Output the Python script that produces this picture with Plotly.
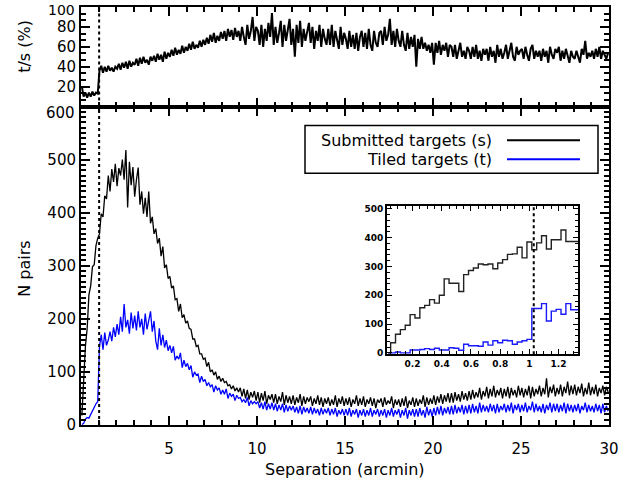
import plotly.graph_objects as go

# ---------------- data ----------------
BIN = 0.1
sep_centers = [round(0.05 + BIN * k, 3) for k in range(300)]

submitted = [
    18, 98, 148, 182, 245, 262, 298, 302, 338, 352,
    360, 398, 392, 432, 426, 470, 440, 482, 458, 492,
    450, 484, 470, 500, 462, 518, 410, 496, 452, 486,
    430, 462, 485, 415, 440, 398, 428, 392, 440, 380,
    392, 360, 370, 342, 352, 318, 336, 296, 302, 276,
    280, 258, 262, 236, 238, 214, 228, 202, 208, 192,
    196, 182, 180, 162, 162, 148, 150, 134, 134, 124,
    126, 110, 118, 100, 104, 94, 100, 86, 92, 82,
    88, 80, 82, 74, 76, 68, 74, 64, 70, 62,
    70, 54, 68, 50, 66, 48, 62, 52, 64, 46,
    62, 42, 60, 46, 64, 40, 56, 48, 58, 42,
    58, 40, 54, 44, 62, 38, 56, 42, 54, 40,
    56, 38, 52, 42, 58, 36, 54, 40, 52, 44,
    54, 36, 50, 40, 56, 38, 52, 34, 50, 40,
    52, 36, 48, 38, 56, 34, 50, 40, 54, 36,
    50, 38, 52, 34, 48, 40, 56, 36, 50, 38,
    54, 34, 48, 40, 52, 36, 50, 32, 48, 42,
    50, 34, 52, 38, 46, 40, 54, 32, 48, 38,
    48, 34, 50, 36, 54, 32, 46, 38, 52, 34,
    50, 36, 48, 40, 56, 34, 52, 38, 50, 40,
    56, 38, 54, 42, 58, 40, 56, 44, 60, 42,
    60, 42, 62, 46, 58, 44, 64, 48, 60, 46,
    64, 48, 66, 50, 62, 52, 70, 48, 64, 54,
    72, 50, 68, 54, 74, 52, 66, 56, 70, 50,
    68, 54, 72, 50, 70, 56, 66, 52, 74, 56,
    70, 52, 68, 56, 74, 50, 72, 54, 68, 58,
    74, 54, 70, 58, 88, 52, 72, 60, 76, 54,
    70, 58, 76, 54, 72, 60, 82, 56, 74, 58,
    76, 56, 72, 60, 78, 54, 70, 58, 80, 56,
    72, 58, 76, 54, 70, 60, 74, 56, 72, 62,
]

tiled = [
    1, 3, 11, 14, 13, 20, 25, 33, 40, 44,
    148, 170, 142, 174, 150, 160, 176, 158, 184, 166,
    190, 170, 204, 176, 228, 184, 198, 172, 212, 182,
    206, 178, 214, 184, 200, 170, 210, 180, 198, 214,
    176, 196, 158, 142, 182, 150, 170, 146, 160, 140,
    150, 136, 148, 122, 130, 124, 136, 108, 122, 110,
    116, 104, 112, 90, 100, 94, 96, 80, 92, 82,
    86, 74, 80, 72, 76, 62, 74, 66, 70, 58,
    66, 58, 68, 50, 60, 54, 58, 46, 56, 50,
    52, 44, 48, 42, 52, 36, 46, 40, 44, 40,
    44, 32, 42, 30, 44, 28, 40, 30, 42, 28,
    40, 26, 38, 28, 40, 24, 38, 26, 36, 28,
    36, 24, 34, 22, 36, 20, 34, 24, 32, 22,
    34, 20, 32, 22, 30, 18, 32, 20, 30, 22,
    32, 18, 30, 20, 32, 16, 28, 20, 30, 18,
    30, 18, 32, 16, 28, 20, 30, 14, 28, 18,
    30, 16, 28, 18, 32, 16, 28, 20, 30, 16,
    28, 18, 30, 14, 28, 18, 32, 16, 28, 20,
    30, 14, 28, 18, 32, 12, 28, 18, 30, 16,
    30, 16, 32, 18, 28, 14, 34, 18, 30, 16,
    32, 18, 34, 20, 36, 18, 32, 22, 34, 20,
    36, 20, 38, 22, 34, 24, 38, 20, 36, 22,
    38, 22, 40, 24, 36, 22, 42, 24, 38, 26,
    36, 24, 40, 26, 38, 22, 40, 24, 36, 28,
    40, 24, 38, 26, 42, 22, 38, 28, 40, 24,
    38, 26, 42, 24, 36, 28, 44, 24, 40, 26,
    36, 24, 40, 22, 38, 28, 42, 24, 40, 26,
    40, 24, 38, 26, 42, 22, 40, 26, 38, 24,
    38, 26, 40, 22, 36, 28, 42, 24, 38, 26,
    36, 24, 40, 26, 38, 22, 40, 24, 36, 26,
]

ratio_pct = [
    20, 10, 14, 9, 14, 10, 15, 11, 14, 13,
    36, 41, 34, 40, 35, 41, 36, 39, 35, 40,
    38, 43, 37, 44, 39, 45, 38, 46, 40, 44,
    42, 48, 41, 49, 43, 50, 44, 47, 42, 50,
    46, 51, 45, 53, 47, 52, 45, 55, 48, 54,
    50, 57, 51, 59, 52, 57, 53, 61, 54, 60,
    56, 63, 57, 65, 58, 62, 59, 66, 60, 67,
    62, 69, 63, 72, 65, 74, 64, 71, 66, 75,
    68, 76, 66, 78, 70, 77, 67, 79, 70, 76,
    66, 80, 70, 62, 82, 68, 76, 90, 66, 80,
    76, 62, 82, 60, 78, 66, 84, 70, 94, 62,
    80, 64, 74, 86, 60, 82, 66, 76, 88, 62,
    78, 50, 82, 64, 86, 60, 78, 66, 74, 84,
    64, 80, 58, 76, 66, 82, 60, 78, 68, 62,
    78, 62, 82, 60, 76, 66, 58, 80, 62, 74,
    68, 58, 76, 60, 72, 58, 74, 56, 70, 76,
    60, 74, 58, 78, 62, 56, 76, 64, 60, 74,
    76, 62, 80, 66, 72, 88, 62, 76, 60, 78,
    66, 60, 76, 62, 56, 74, 58, 70, 60, 72,
    40, 68, 58, 70, 58, 64, 56, 62, 54, 64,
    42, 64, 54, 66, 52, 62, 56, 64, 50, 62,
    60, 50, 62, 48, 58, 64, 50, 56, 48, 60,
    56, 48, 60, 50, 62, 48, 56, 46, 58, 52,
    58, 46, 60, 50, 56, 44, 62, 50, 58, 48,
    54, 62, 48, 58, 64, 50, 46, 60, 52, 56,
    58, 48, 60, 52, 46, 58, 62, 48, 56, 50,
    56, 46, 58, 50, 56, 44, 60, 52, 48, 58,
    54, 60, 46, 56, 48, 58, 52, 44, 56, 50,
    48, 56, 50, 44, 58, 52, 66, 48, 54, 50,
    56, 48, 58, 50, 60, 48, 56, 52, 48, 54,
]

# inset: fine bins of 1/30 arcmin
inset_centers = [round(k / 30.0, 4) for k in range(1, 41)]
inset_submitted = [
    0, 35, 65, 81, 96, 133, 121, 157, 165, 185,
    173, 200, 257, 242, 242, 213, 272, 286, 295, 309,
    306, 309, 292, 312, 324, 342, 344, 367, 330, 385,
    358, 382, 407, 361, 393, 393, 427, 387, 387, 387,
]
inset_tiled = [
    0, 0, 3, 0, 0, 10, 10, 12, 15, 12,
    16, 10, 10, 18, 16, 9, 30, 25, 25, 23,
    38, 27, 42, 35, 44, 42, 30, 38, 42, 47,
    154, 154, 171, 111, 145, 151, 134, 171, 150, 150,
]

fiber_scale = 1.03
x_ticks = [5, 10, 15, 20, 25, 30]
n_ticks = [0, 100, 200, 300, 400, 500]
r_ticks = [20, 40, 60, 80]
inset_xticks = [0.2, 0.4, 0.6, 0.8, 1.0, 1.2]
inset_yticks = [0, 100, 200, 300, 400, 500]
legend_labels = ["Submitted targets (s)", "Tiled targets (t)"]
colors = ["#000000", "#0000ff"]

# ---------------- figure ----------------
FONT = "DejaVu Sans"
FS = 15
split = 320 / 420.0

fig = go.Figure()
fig.add_trace(go.Scatter(x=sep_centers, y=submitted, mode="lines", line=dict(color=colors[0], width=1.3),
                         xaxis="x", yaxis="y", showlegend=False))
fig.add_trace(go.Scatter(x=sep_centers, y=tiled, mode="lines", line=dict(color=colors[1], width=1.3),
                         xaxis="x", yaxis="y", showlegend=False))
fig.add_trace(go.Scatter(x=sep_centers, y=ratio_pct, mode="lines", line=dict(color="#000000", width=2.0),
                         xaxis="x2", yaxis="y2", showlegend=False))
fig.add_trace(go.Scatter(x=inset_centers, y=inset_submitted, mode="lines", line=dict(color="#222222", width=1.4, shape="hvh"),
                         xaxis="x3", yaxis="y3", showlegend=False))
fig.add_trace(go.Scatter(x=inset_centers, y=inset_tiled, mode="lines", line=dict(color="#1a1aff", width=1.4, shape="hvh"),
                         xaxis="x3", yaxis="y3", showlegend=False))

axis_common = dict(showline=True, linecolor="black", linewidth=2, mirror="ticks", ticks="inside",
                   showgrid=False, zeroline=False, tickcolor="black", tickwidth=1.5,
                   tickfont=dict(family=FONT, size=FS, color="black"))

fig.update_layout(
    width=643, height=483,
    margin=dict(l=81, r=34, t=5, b=58),
    paper_bgcolor="white", plot_bgcolor="white",
    xaxis=dict(**axis_common, domain=[0, 1], range=[0, 30], anchor="y",
               tickmode="array", tickvals=x_ticks, ticklen=9, ticklabelstandoff=9,
               minor=dict(ticks="inside", dtick=1, tick0=0, ticklen=5, tickcolor="black", tickwidth=1.5)),
    yaxis=dict(**axis_common, domain=[0, split], range=[0, 600], anchor="x",
               tickmode="array", tickvals=n_ticks, ticklen=9,
               minor=dict(ticks="inside", dtick=10, tick0=0, ticklen=5, tickcolor="black", tickwidth=1.5)),
    xaxis2=dict(**axis_common, domain=[0, 1], range=[0, 30], anchor="y2", matches="x",
                showticklabels=False, tickmode="array", tickvals=x_ticks, ticklen=9,
                minor=dict(ticks="inside", dtick=1, tick0=0, ticklen=5, tickcolor="black", tickwidth=1.5)),
    yaxis2=dict(**axis_common, domain=[split, 1], range=[0, 100], anchor="x2",
                tickmode="array", tickvals=r_ticks, ticklen=9,
                minor=dict(ticks="inside", dtick=20 / 3, tick0=0, ticklen=5, tickcolor="black", tickwidth=1.5)),
    xaxis3=dict(showline=True, linecolor="black", linewidth=2, mirror="ticks", ticks="inside",
                showgrid=False, zeroline=False, tickcolor="black", tickwidth=1,
                domain=[306 / 528, 497 / 528], range=[0.025, 1.333], anchor="y3",
                tickmode="array", tickvals=inset_xticks, ticklen=5,
                tickfont=dict(family=FONT, size=9, color="black", weight="bold"),
                minor=dict(ticks="inside", dtick=0.05, tick0=0, ticklen=3, tickcolor="black", tickwidth=1)),
    yaxis3=dict(showline=True, linecolor="black", linewidth=2, mirror="ticks", ticks="inside",
                showgrid=False, zeroline=False, tickcolor="black", tickwidth=1,
                domain=[71 / 420, 220 / 420], range=[-5, 510], anchor="x3",
                tickmode="array", tickvals=inset_yticks, ticklen=5,
                tickfont=dict(family=FONT, size=9, color="black", weight="bold"),
                minor=dict(ticks="inside", dtick=20, tick0=0, ticklen=3, tickcolor="black", tickwidth=1)),
)

# dotted fiber-collision lines
for xr, yr in (("x", "y domain"), ("x2", "y2 domain"), ("x3", "y3 domain")):
    fig.add_shape(type="line", xref=xr, yref=yr, x0=fiber_scale, x1=fiber_scale, y0=0, y1=1,
                  line=dict(color="black", width=2, dash="dot"))

# legend box (drawn manually to mimic right-aligned IDL legend)
fig.add_shape(type="rect", xref="paper", yref="paper",
              x0=224 / 528, x1=517 / 528, y0=253 / 420, y1=301 / 420,
              line=dict(color="black", width=1.5), fillcolor="white", layer="below")
for i, (lab, col) in enumerate(zip(legend_labels, colors)):
    ypx = 139 + 19 * i
    yp = (425 - ypx) / 420
    fig.add_shape(type="line", xref="paper", yref="paper", x0=426 / 528, x1=499 / 528, y0=yp, y1=yp,
                  line=dict(color=col, width=2))
    fig.add_annotation(xref="paper", yref="paper", x=413 / 528, y=yp, text=lab, showarrow=False,
                       xanchor="right", yanchor="middle", font=dict(family=FONT, size=16, color="black"))

# axis titles and top tick labels
fig.add_annotation(xref="paper", yref="paper", x=0.5, y=(425 - 470) / 420, text="Separation (arcmin)",
                   showarrow=False, xanchor="center", yanchor="middle",
                   font=dict(family=FONT, size=16, color="black"))
fig.add_annotation(xref="paper", yref="paper", x=(25 - 81) / 528, y=(425 - 268) / 420, text="N pairs",
                   textangle=-90, showarrow=False, xanchor="center", yanchor="middle",
                   font=dict(family=FONT, size=16, color="black"))
fig.add_annotation(xref="paper", yref="paper", x=(25 - 81) / 528, y=(425 - 45) / 420, text="t/s (%)",
                   textangle=-90, showarrow=False, xanchor="center", yanchor="middle",
                   font=dict(family=FONT, size=16, color="black"))
fig.add_annotation(xref="paper", yref="paper", x=-4 / 528, y=(425 - 8.5) / 420, text="100",
                   showarrow=False, xanchor="right", yanchor="middle",
                   font=dict(family=FONT, size=14, color="black"))
fig.add_annotation(xref="paper", yref="paper", x=-4 / 528, y=(425 - 112) / 420, text="600",
                   showarrow=False, xanchor="right", yanchor="middle",
                   font=dict(family=FONT, size=FS, color="black"))

fig.write_html("out.html", config={"displayModeBar": False},
               post_script="document.body.style.margin='0px';")
